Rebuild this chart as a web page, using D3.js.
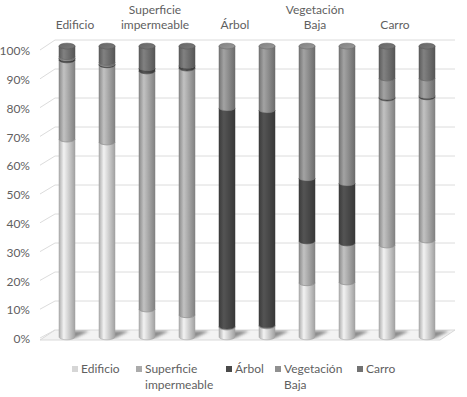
<!DOCTYPE html>
<html><head><meta charset="utf-8">
<script src="https://cdn.jsdelivr.net/npm/d3@7"></script>
<style>body{margin:0;background:#fff}svg{display:block}text{font-family:Lato,"Open Sans",sans-serif;fill:#5f5f5f}</style>
</head><body>
<script>
// ---- data ----
const groups = [["Edificio"],["Superficie","impermeable"],["Árbol"],["Vegetación","Baja"],["Carro"]];
const seriesNames = ["Edificio","Superficie impermeable","Árbol","Vegetación Baja","Carro"];
const legendLines = [["Edificio"],["Superficie","impermeable"],["Árbol"],["Vegetación","Baja"],["Carro"]];
const barGroup = [0,0,1,1,2,2,3,3,4,4];
const edificio   = [68.0, 67.0,  9.6,  7.6,  3.4,  3.8, 18.6, 18.9, 31.6, 33.3];
const superficie = [27.2, 26.5, 81.8, 84.8,  0.3,  0.3, 14.4, 13.4, 50.5, 49.2];
const arbol      = [ 0.6,  0.3,  1.0,  0.8, 75.0, 73.9, 21.6, 20.6,  0.4,  0.4];
const vegetacion = [ 0.5,  0.5,  0.0,  0.0, 21.3, 22.0, 45.4, 47.1,  6.5,  6.1];
const carro      = [ 3.7,  5.7,  7.6,  6.8,  0.0,  0.0,  0.0,  0.0, 11.0, 11.0];
const yTicks = [0,10,20,30,40,50,60,70,80,90,100];
const colors = ["#d6d6d6","#ababab","#4a4a4a","#909090","#727272"];

const W = 467, H = 397;
const svg = d3.select("body").append("svg").attr("width", W).attr("height", H);
const defs = svg.append("defs");

const seriesVals = [edificio, superficie, arbol, vegetacion, carro];
const bars = d3.range(10).map(i => {
  let acc = 0;
  return seriesVals.map((arr, s) => { const y0 = acc; acc += arr[i]; return {s, y0, y1: acc}; }).filter(d => d.y1 - d.y0 > 0);
});

const x = d3.scaleBand().domain(d3.range(10)).range([47, 447]).paddingInner(0.6).paddingOuter(0.3);
const yBar = d3.scaleLinear().domain([0,100]).range([337, 46]);
const yGrid = d3.scaleLinear().domain([0,100]).range([330, 40]);
const yLab = d3.scaleLinear().domain([0,100]).range([339, 51]);

colors.forEach((c, i) => {
  const g = defs.append("linearGradient").attr("id", "g" + i).attr("x1", "0").attr("x2", "1").attr("y1", "0").attr("y2", "0");
  const base = d3.color(c);
  [[0, base.darker(0.6)], [0.3, base.brighter(0.35)], [0.55, base], [1, base.darker(0.8)]].forEach(([o, col]) =>
    g.append("stop").attr("offset", o).attr("stop-color", col.formatHex()));
  const gt = defs.append("linearGradient").attr("id", "t" + i).attr("x1", "0").attr("x2", "1").attr("y1", "0").attr("y2", "1");
  gt.append("stop").attr("offset", 0).attr("stop-color", base.darker(0.3).formatHex());
  gt.append("stop").attr("offset", 1).attr("stop-color", base.brighter(0.2).formatHex());
});
defs.append("filter").attr("id", "blur").append("feGaussianBlur").attr("stdDeviation", 1.5);

svg.append("path").attr("d", "M40,340 L55,330 L455,330 L440,340 Z").attr("fill", "#f3f3f3").attr("stroke", "#d9d9d9");

yTicks.forEach(t => {
  if (t > 0) svg.append("line").attr("x1", 55).attr("x2", 455).attr("y1", yGrid(t)).attr("y2", yGrid(t)).attr("stroke", "#dcdcdc");
  svg.append("line").attr("x1", 40).attr("y1", yLab(t) - 1).attr("x2", 55).attr("y2", yGrid(t)).attr("stroke", "#dcdcdc");
  svg.append("text").attr("x", 30).attr("y", yLab(t)).attr("dy", "0.35em").attr("text-anchor", "end")
    .attr("font-size", 12).text(t + "%");
});

const bw = x.bandwidth(), rx = bw / 2, ry = 2.8;
d3.range(10).forEach(i => {
  const c = x(i) + rx;
  svg.append("path").attr("d", `M${c-3},${yBar(0)+1} L${c+rx},${yBar(0)+1} L${c+rx+14},${yGrid(0)+1} L${c+4},${yGrid(0)+1} Z`)
    .attr("fill", "#444").attr("opacity", 0.6).attr("filter", "url(#blur)");
});

bars.forEach((segs, i) => {
  const x0 = x(i), x1 = x0 + bw, c = x0 + rx;
  const g = svg.append("g");
  segs.forEach(d => {
    const yb = yBar(d.y0), yt = yBar(d.y1);
    g.append("path")
      .attr("d", `M${x0},${yb} A${rx},${ry} 0 0 0 ${x1},${yb} L${x1},${yt} A${rx},${ry} 0 0 1 ${x0},${yt} Z`)
      .attr("fill", `url(#g${d.s})`).attr("stroke", d3.color(colors[d.s]).darker(0.8).formatHex()).attr("stroke-width", 0.5);
  });
  const top = segs[segs.length - 1];
  g.append("ellipse").attr("cx", c).attr("cy", yBar(top.y1)).attr("rx", rx).attr("ry", ry)
    .attr("fill", `url(#t${top.s})`).attr("stroke", d3.color(colors[top.s]).darker(0.9).formatHex()).attr("stroke-width", 0.6);
});

groups.forEach((lines, gi) => {
  const idx = barGroup.indexOf(gi);
  const cx = (x(idx) + x(idx + 1) + bw) / 2 - 12;
  lines.forEach((ln, k) => {
    svg.append("text").attr("x", cx).attr("y", 25 - (lines.length - 1 - k) * 15).attr("dy", "0.35em")
      .attr("text-anchor", "middle").attr("font-size", 12).text(ln);
  });
});

const legX = [72, 136, 226, 275, 357];
seriesNames.forEach((name, s) => {
  const lx = legX[s];
  svg.append("rect").attr("x", lx).attr("y", 366).attr("width", 6).attr("height", 6).attr("fill", colors[s]);
  legendLines[s].forEach((ln, k) => {
    svg.append("text").attr("x", lx + 9).attr("y", 369 + k * 16).attr("dy", "0.35em").attr("font-size", 12).text(ln);
  });
});
</script>
</body></html>
